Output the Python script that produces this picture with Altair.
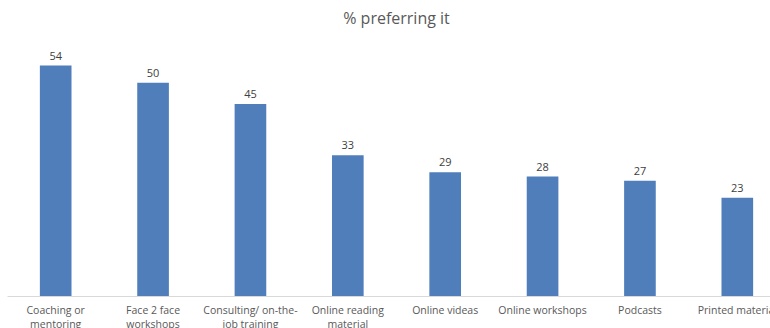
import altair as alt
import pandas as pd

categories = [
    "Coaching or|mentoring",
    "Face 2 face|workshops",
    "Consulting/ on-the-|job training",
    "Online reading|material",
    "Online videas",
    "Online workshops",
    "Podcasts",
    "Printed material",
]
values = [54, 50, 45, 33, 29, 28, 27, 23]

df = pd.DataFrame({"cat": categories, "val": values})

FONT = "Open Sans"
BAR = "#4f7ebb"

x = alt.X(
    "cat:N",
    sort=None,
    title=None,
    scale=alt.Scale(range=[0, 779], paddingInner=0.675, paddingOuter=0.3375),
    axis=alt.Axis(
        labelExpr="split(datum.label, '|')",
        labelAngle=0,
        labelFont=FONT,
        labelFontSize=10.5,
        labelColor="#595959",
        labelLineHeight=14,
        labelPadding=9,
        labelBaseline="top",
        ticks=False,
        domainColor="#d9d9d9",
        domainWidth=1,
        grid=False,
    ),
)
y = alt.Y(
    "val:Q",
    scale=alt.Scale(domain=[0, 60], nice=False),
    axis=None,
)

bars = alt.Chart(df).mark_bar(color=BAR).encode(x=x, y=y)
labels = alt.Chart(df).mark_text(
    font=FONT, fontSize=11, color="#404040", baseline="bottom", dy=-4
).encode(x=x, y=y, text="val:Q")

chart = (
    alt.layer(bars, labels)
    .properties(
        width=763,
        height=256,
        autosize=alt.AutoSizeParams(type="none"),
        padding={"left": 7, "top": 40, "right": 0, "bottom": 32},
        title=alt.TitleParams(
            "% preferring it",
            font=FONT,
            fontSize=16,
            fontWeight="normal",
            color="#595959",
            anchor="middle",
            dx=8,
            offset=13,
        ),
    )
    .configure_view(stroke=None)
)

chart.save("out.html", embed_options={"renderer": "svg", "actions": False})
